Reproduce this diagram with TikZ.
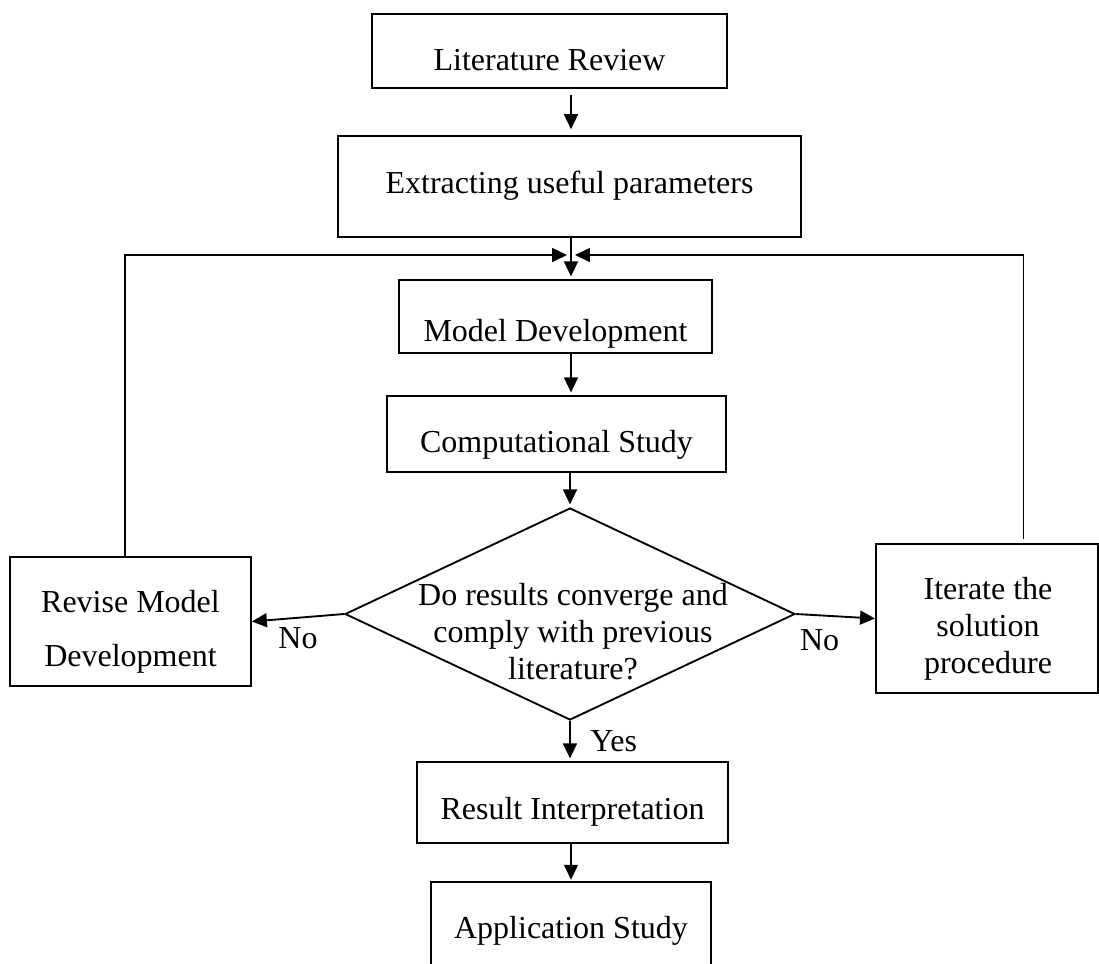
\documentclass[tikz,border=0pt]{standalone}
\usepackage{fontspec}
\setmainfont{Liberation Serif}
\usetikzlibrary{arrows.meta, shapes.geometric, positioning, calc}
\tikzset{>={Triangle[length=5.6pt,width=5.2pt]}}
\tikzset{
	box/.style={draw, line width=0.7pt, inner sep=2pt, align=center},
	textdrop/.style={text height=#1, text depth=2pt},
	flow/.style={->, line width=0.7pt},
}

\begin{document}
\begin{tikzpicture}[x=0.375pt, y=-0.375pt, font=\fontsize{12}{13.9}\selectfont]

			\useasboundingbox (0,0) rectangle (1099,963);
			\clip (0,0) rectangle (1099,963);

			\coordinate (spine) at (571,0);
			\coordinate (merge) at (571,255);

			% main column
			\node [box, textdrop=16.8pt, minimum width=133pt, minimum height=27.8pt] (lit) at (549.5,51) {Literature Review};
			\node [box, textdrop=7.4pt, minimum width=173.6pt, minimum height=37.9pt] (ext) at (569.5,186.5) {Extracting useful parameters};
			\node [box, textdrop=20.5pt, minimum width=117.4pt, minimum height=27.4pt] (model) at (555.5,316.5) {Model Development};
			\node [box, textdrop=16pt, minimum width=127.1pt, minimum height=28.5pt] (comp) at (556.5,434) {Computational Study};

			\node [draw, diamond, line width=0.7pt, inner sep=0pt, minimum width=168.75pt, minimum height=79.5pt] (dec) at (570,614) {};
			\node [align=center, inner sep=0pt] (q) at (573,632) {Do results converge and\\comply with previous\\literature?};

			\node [box, textdrop=14.5pt, minimum width=116.6pt, minimum height=30.4pt] (result) at (572.5,802.5) {Result Interpretation};
			\node [box, textdrop=10pt, minimum width=105pt, minimum height=34.5pt] (app) at (571,928) {Application Study};

			% side boxes, text set a little low in them
			\node [box, minimum width=90.4pt, minimum height=48.4pt] (revise) at (130.5,621.5) {};
			\node [align=center, inner sep=0pt, font=\fontsize{12}{20.25}\selectfont] (revisetext) at (130.5,632) {Revise Model\\Development};
			\node [box, minimum width=83.3pt, minimum height=55.9pt] (iterate) at (987,618.5) {};
			\node [align=center, inner sep=0pt] (iteratetext) at (988,629) {Iterate the\\solution\\procedure};

			% arrows down the middle
			\draw [flow, shorten <=2.2pt, shorten >=2.2pt] (lit.south -| spine) -- (ext.north -| spine);
			\draw [flow, shorten >=1pt] (ext.south -| spine) -- (model.north -| spine);
			\draw [flow, shorten >=1pt] (model.south -| spine) -- (comp.north -| spine);
			\draw [flow, shorten >=1pt] (comp.south -| dec.north) -- (dec.north);
			\draw [flow, shorten >=1pt] (dec.south) -- (result.north -| dec.south) node[midway, right, xshift=4pt] {Yes};
			\draw [flow, shorten >=0.5pt] (result.south -| spine) -- (app.north -| spine);

			% the two No branches
			\draw [flow] (dec.west) -- (revise.east) node[midway, below] {No};
			\draw [flow] (dec.east) -- (iterate.west) node[pos=0.3, below, yshift=-1.75pt] {No};

			% feedback into the model
			\draw [flow, shorten >=1.5pt] ([xshift=-2pt]revise.north) |- (merge);
			\draw [flow, shorten <=1.5pt, shorten >=1.5pt] ([xshift=13.7pt]iterate.north) |- (merge);

		\end{tikzpicture}
\end{document}
